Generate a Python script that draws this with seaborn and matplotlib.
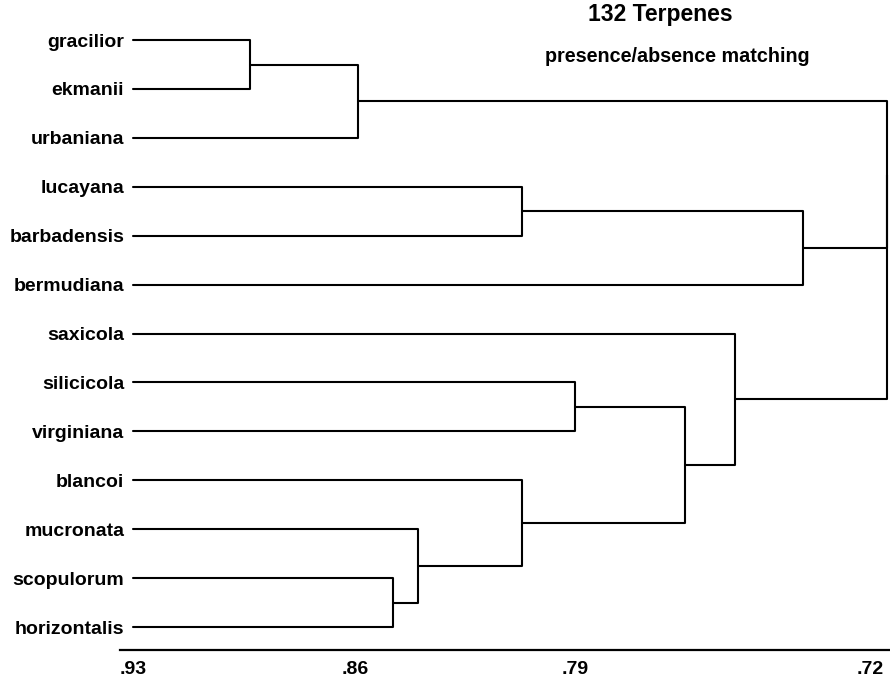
import numpy as np
import pandas as pd
import seaborn as sns
import matplotlib
matplotlib.use("Agg")
import matplotlib.pyplot as plt

# species (leaf order top to bottom)
species = ["gracilior", "ekmanii", "urbaniana", "lucayana", "barbadensis",
           "bermudiana", "saxicola", "silicicola", "virginiana", "blancoi",
           "mucronata", "scopulorum", "horizontalis"]

# merges: ids 0-12 are leaves, each merge creates the next id (13, 14, ...)
merge_left = [0, 13, 3, 15, 7, 11, 10, 9, 17, 6, 14, 23]
merge_right = [1, 2, 4, 5, 8, 12, 18, 19, 20, 21, 16, 22]
merge_sim = [.893, .859, .807, .736, .790, .848, .840, .807, .764, .752, .716, .716]

leaf_sim = .93
tick_vals = [.93, .86, .79, .72]
tick_labels = [".93", ".86", ".79", ".72"]

# the printed axis is not evenly spaced, so use a piecewise linear scale
knot_vals = np.array([.60, .72, .79, .86, .93, 1.0])
knot_pos = np.array([1375.7, 870, 575, 355, 133, -89])


def fwd(v):
    return -np.interp(v, knot_vals, knot_pos)


def inv(t):
    return np.interp(t, -knot_pos, knot_vals)


# build the dendrogram segments
n = len(species)
node_y = {i: float(i) for i in range(n)}
node_h = {i: leaf_sim for i in range(n)}
rows = []
for k, (a, b, h) in enumerate(zip(merge_left, merge_right, merge_sim)):
    pts = [(node_h[a], node_y[a]), (h, node_y[a]), (h, node_y[b]), (node_h[b], node_y[b])]
    for j, (x, y) in enumerate(pts):
        rows.append({"sim": x, "pos": y, "seg": k, "order": j})
    node_y[n + k] = (node_y[a] + node_y[b]) / 2
    node_h[n + k] = h
segs = pd.DataFrame(rows)

sns.set_style("white")
plt.rcParams["font.family"] = ["Liberation Sans", "DejaVu Sans"]
plt.rcParams["font.weight"] = "bold"
plt.rcParams["text.color"] = "black"
plt.rcParams["xtick.color"] = "black"
plt.rcParams["ytick.color"] = "black"

fig = plt.figure(figsize=(8.9, 6.81), dpi=100)
ax = fig.add_axes([120 / 890, 1 - 650 / 681, 770 / 890, 630 / 681])
ax.set_xscale("function", functions=(fwd, inv))

sns.lineplot(data=segs, x="sim", y="pos", units="seg", estimator=None, sort=False,
             color="black", linewidth=1.5, ax=ax, legend=False)
for line in ax.get_lines():
    line.set_clip_on(False)

ax.set_xlim(.934, .7153)
ax.set_ylim(12.47, -0.41)
ax.set_xticks(tick_vals)
ax.set_xticklabels(tick_labels, fontsize=14, fontweight="bold", color="black")
ax.set_yticks(range(n))
ax.set_yticklabels(species, fontsize=14, fontweight="bold", color="black")
ax.tick_params(axis="x", length=0, pad=8)
ax.tick_params(axis="y", length=0, pad=-3)
ax.set_xlabel("")
ax.set_ylabel("")
for s in ["top", "right", "left"]:
    ax.spines[s].set_visible(False)
ax.spines["bottom"].set_linewidth(1.6)
ax.spines["bottom"].set_color("black")

fig.text(660 / 890, 1 - 15 / 681, "132 Terpenes", ha="center", va="center",
         fontsize=16.5, fontweight="bold", color="black")
fig.text(677 / 890, 1 - 56 / 681, "presence/absence matching", ha="center", va="center",
         fontsize=14.2, fontweight="bold", color="black")

fig.savefig("out.png", dpi=100)
